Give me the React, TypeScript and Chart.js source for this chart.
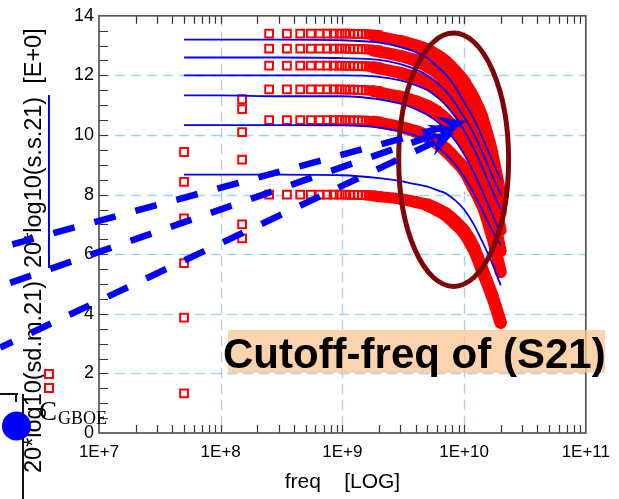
import { useEffect, useRef } from "react";
import { Chart, registerables } from "chart.js";

Chart.register(...registerables);

const FONT = "'Liberation Sans', Arial, Helvetica, sans-serif";
const SERIF = "'Liberation Serif', 'Times New Roman', Times, serif";
const RED = "#ff0000";
const BLUE = "#0000ff";
const GRID = "rgb(158, 212, 242)";
const AXIS = "#555555";

// ---- axes ----
const xTickValues = [1e7, 1e8, 1e9, 1e10, 1e11];
const xTickLabels = ["1E+7", "1E+8", "1E+9", "1E+10", "1E+11"];
const yTickValues = [0, 2, 4, 6, 8, 10, 12, 14];
const yTickLabels = ["0", "2", "4", "6", "8", "10", "12", "14"];

const xAxisTitle = "freq    [LOG]";
const yTitleSim = "20*log10(s.s.21)  [E+0]";
const yTitleMeas = "20*log10(sd.m.21)";
const calloutText = "Cutoff-freq of (S21)";
const capLabelMain = "C";
const capLabelSub = "GBOE";

// ---- measured data (red squares), discrete low-frequency points ----
const measFreq = [5e7, 1.5e8, 2.5e8, 3.5e8, 4.5e8, 5.5e8, 6.5e8, 7.5e8, 8.5e8, 9.5e8, 1.05e9, 1.15e9, 1.25e9, 1.35e9, 1.45e9, 1.55e9, 1.65e9, 1.75e9, 1.85e9, 1.95e9];
const measA = [9.43, 11.2, 13.4, 13.4, 13.4, 13.4, 13.4, 13.4, 13.4, 13.4, 13.4, 13.4, 13.39, 13.39, 13.39, 13.38, 13.38, 13.37, 13.36, 13.35];
const measB = [8.43, 10.87, 12.9, 12.9, 12.9, 12.9, 12.9, 12.9, 12.9, 12.9, 12.9, 12.89, 12.89, 12.88, 12.88, 12.87, 12.87, 12.86, 12.85, 12.84];
const measC = [7.2, 10.1, 12.33, 12.33, 12.33, 12.33, 12.33, 12.33, 12.33, 12.33, 12.32, 12.32, 12.32, 12.31, 12.31, 12.3, 12.3, 12.29, 12.28, 12.27];
const measD = [5.7, 9.17, 11.53, 11.53, 11.53, 11.53, 11.53, 11.53, 11.53, 11.53, 11.52, 11.52, 11.52, 11.51, 11.51, 11.5, 11.5, 11.49, 11.48, 11.47];
const measE = [3.87, 7.0, 10.5, 10.5, 10.5, 10.5, 10.5, 10.5, 10.5, 10.5, 10.5, 10.49, 10.49, 10.49, 10.48, 10.48, 10.47, 10.47, 10.46, 10.45];
const measF = [1.33, 6.53, 8.0, 8.0, 8.0, 8.0, 8.0, 8.0, 8.0, 8.0, 8.0, 7.99, 7.99, 7.99, 7.98, 7.98, 7.97, 7.97, 7.96, 7.95];

// ---- measured data, dense high-frequency band ----
const bandFreq = [1.8e9, 3e9, 4e9, 5e9, 6e9, 7e9, 8.5e9, 1e10, 1.2e10, 1.4e10, 1.7e10, 2e10];
const bandA = [13.33, 13.15, 13.0, 12.85, 12.65, 12.45, 12.1, 11.75, 11.2, 10.6, 9.4, 8.0];
const bandB = [12.83, 12.65, 12.5, 12.32, 12.12, 11.9, 11.55, 11.2, 10.6, 10.0, 8.8, 7.4];
const bandC = [12.27, 12.08, 11.92, 11.75, 11.55, 11.33, 10.97, 10.6, 10.0, 9.4, 8.2, 6.8];
const bandD = [11.47, 11.28, 11.12, 10.95, 10.75, 10.52, 10.15, 9.8, 9.2, 8.6, 7.45, 6.1];
const bandE = [10.45, 10.27, 10.12, 9.95, 9.75, 9.52, 9.17, 8.85, 8.25, 7.7, 6.6, 5.4];
const bandF = [7.95, 7.85, 7.75, 7.65, 7.5, 7.35, 7.05, 6.75, 6.2, 5.5, 4.6, 3.7];

// ---- simulated data (blue lines) ----
const simFreq = [5e7, 1e8, 3e8, 1e9, 2e9, 3e9, 4e9, 5e9, 6e9, 7e9, 8.5e9, 1e10, 1.2e10, 1.4e10, 1.7e10, 2e10];
const sim1 = [13.2, 13.2, 13.2, 13.18, 13.1, 12.95, 12.78, 12.58, 12.3, 12.05, 11.6, 11.1, 10.55, 9.95, 9.15, 8.5];
const sim2 = [12.6, 12.6, 12.6, 12.58, 12.52, 12.38, 12.2, 12.0, 11.75, 11.5, 11.05, 10.6, 10.05, 9.45, 8.65, 8.0];
const sim3 = [12.0, 12.0, 12.0, 12.0, 11.95, 11.83, 11.67, 11.5, 11.27, 11.02, 10.6, 10.15, 9.55, 8.95, 8.15, 7.5];
const sim4 = [11.33, 11.33, 11.3, 11.3, 11.2, 11.05, 10.87, 10.67, 10.45, 10.2, 9.8, 9.35, 8.75, 8.15, 7.35, 6.65];
const sim5 = [10.33, 10.33, 10.33, 10.32, 10.25, 10.12, 9.98, 9.8, 9.6, 9.38, 9.0, 8.6, 8.05, 7.5, 6.8, 6.3];
const sim6 = [8.67, 8.67, 8.67, 8.65, 8.55, 8.45, 8.35, 8.27, 8.15, 8.05, 7.8, 7.5, 7.0, 6.45, 5.7, 4.95];

// ---- annotations (data coordinates) ----
const arrowStartFreq = [1.544e6, 1.544e6, 1.544e6];
const arrowStartVal = [6.22, 4.92, 2.87];
const arrowEndFreq = [1.04e10, 8.76e9, 8.28e9];
const arrowEndVal = [10.47, 10.27, 10.07];
const arrowDashOffset = [30, 32, 8.5];
const ellipseFreq = [2.9e9, 2.32e10];
const ellipseVal = [4.92, 13.42];

const pts = (fs: number[], vs: number[]) => fs.map((f, i) => ({ x: f, y: vs[i] }));

function drawArrow(ctx: CanvasRenderingContext2D, x0: number, y0: number, x1: number, y1: number, offset: number) {
  const L = 28;
  const W = 12;
  const dx = x1 - x0;
  const dy = y1 - y0;
  const len = Math.hypot(dx, dy);
  const ux = dx / len;
  const uy = dy / len;
  const nx = -uy;
  const ny = ux;
  ctx.save();
  ctx.strokeStyle = BLUE;
  ctx.fillStyle = BLUE;
  ctx.lineWidth = 6.5;
  ctx.setLineDash([22, 20.5]);
  ctx.lineDashOffset = offset;
  ctx.beginPath();
  ctx.moveTo(x0, y0);
  ctx.lineTo(x1 - ux * L * 0.6, y1 - uy * L * 0.6);
  ctx.stroke();
  ctx.setLineDash([]);
  ctx.beginPath();
  ctx.moveTo(x1, y1);
  ctx.lineTo(x1 - ux * L + nx * W, y1 - uy * L + ny * W);
  ctx.lineTo(x1 - ux * L * 0.62, y1 - uy * L * 0.62);
  ctx.lineTo(x1 - ux * L - nx * W, y1 - uy * L - ny * W);
  ctx.closePath();
  ctx.fill();
  ctx.restore();
}

const decor = {
  id: "decor",
  beforeDatasetsDraw(chart: any) {
    const { ctx, chartArea: a } = chart;
    const x = chart.scales.x;
    const y = chart.scales.y;
    ctx.save();
    ctx.strokeStyle = GRID;
    ctx.lineWidth = 1.4;
    ctx.setLineDash([10, 6]);
    for (const v of yTickValues.slice(1, -1)) {
      const py = Math.round(y.getPixelForValue(v)) + 0.5;
      ctx.beginPath();
      ctx.moveTo(a.left, py);
      ctx.lineTo(a.right, py);
      ctx.stroke();
    }
    for (const v of xTickValues.slice(1, -1)) {
      const px = Math.round(x.getPixelForValue(v)) + 0.5;
      ctx.beginPath();
      ctx.moveTo(px, a.top);
      ctx.lineTo(px, a.bottom);
      ctx.stroke();
    }
    ctx.restore();
  },
  afterDatasetsDraw(chart: any) {
    const { ctx, chartArea: a } = chart;
    const x = chart.scales.x;
    const y = chart.scales.y;
    ctx.save();
    // ticks
    ctx.strokeStyle = "#333";
    ctx.lineWidth = 1.2;
    ctx.beginPath();
    for (let k = 7; k <= 10; k++) {
      for (let m = 1; m <= 9; m++) {
        if (m === 1 && k === 7) continue;
        const px = Math.round(x.getPixelForValue(m * Math.pow(10, k))) + 0.5;
        ctx.moveTo(px, a.top);
        ctx.lineTo(px, a.top + 8);
        ctx.moveTo(px, a.bottom);
        ctx.lineTo(px, a.bottom - 8);
      }
    }
    for (let v = 0.5; v < 14; v += 0.5) {
      const py = Math.round(y.getPixelForValue(v)) + 0.5;
      ctx.moveTo(a.left, py);
      ctx.lineTo(a.left + 9, py);
    }
    ctx.stroke();
    // frame
    ctx.strokeStyle = AXIS;
    ctx.lineWidth = 1.7;
    ctx.strokeRect(a.left, a.top, a.right - a.left, a.bottom - a.top);
    ctx.restore();
  },
  afterDraw(chart: any) {
    const { ctx } = chart;
    const x = chart.scales.x;
    const y = chart.scales.y;
    ctx.save();

    // ellipse
    const exl = x.getPixelForValue(ellipseFreq[0]);
    const exr = x.getPixelForValue(ellipseFreq[1]);
    const eyb = y.getPixelForValue(ellipseVal[0]);
    const eyt = y.getPixelForValue(ellipseVal[1]);
    ctx.strokeStyle = "#7d0707";
    ctx.lineWidth = 5;
    ctx.beginPath();
    ctx.ellipse((exl + exr) / 2, (eyb + eyt) / 2, (exr - exl) / 2, (eyb - eyt) / 2, 0, 0, Math.PI * 2);
    ctx.stroke();

    // y-axis titles (rotated)
    ctx.fillStyle = "#000";
    ctx.font = `23.5px ${FONT}`;
    ctx.textAlign = "left";
    ctx.textBaseline = "alphabetic";
    ctx.save();
    ctx.translate(41, 268);
    ctx.rotate(-Math.PI / 2);
    ctx.fillText(yTitleSim, 0, 0);
    ctx.restore();
    ctx.save();
    ctx.translate(41, 473);
    ctx.rotate(-Math.PI / 2);
    ctx.fillText(yTitleMeas, 0, 0);
    ctx.restore();

    // legend line for simulated
    ctx.strokeStyle = BLUE;
    ctx.lineWidth = 2;
    ctx.beginPath();
    ctx.moveTo(49, 95);
    ctx.lineTo(49, 268);
    ctx.stroke();

    // legend squares for measured
    ctx.strokeStyle = RED;
    ctx.lineWidth = 2;
    ctx.strokeRect(45, 370, 8, 8);
    ctx.strokeRect(45, 384, 8, 8);

    // black bracket lines
    ctx.strokeStyle = "#111";
    ctx.lineWidth = 2;
    ctx.beginPath();
    ctx.moveTo(0, 394);
    ctx.lineTo(18, 394);
    ctx.moveTo(16, 394);
    ctx.lineTo(16, 402);
    ctx.moveTo(23, 394);
    ctx.lineTo(23, 499);
    ctx.stroke();

    // callout box
    ctx.fillStyle = "rgba(250, 198, 147, 0.75)";
    ctx.fillRect(228, 330, 377, 43);
    ctx.fillStyle = "#000";
    ctx.font = `bold 42px ${FONT}`;
    ctx.fillText(calloutText, 223, 368);

    // dashed arrows
    for (let i = 0; i < arrowStartFreq.length; i++) {
      drawArrow(
        ctx,
        x.getPixelForValue(arrowStartFreq[i]),
        y.getPixelForValue(arrowStartVal[i]),
        x.getPixelForValue(arrowEndFreq[i]),
        y.getPixelForValue(arrowEndVal[i]),
        arrowDashOffset[i]
      );
    }

    // blue dot + C_GBOE
    ctx.fillStyle = BLUE;
    ctx.beginPath();
    ctx.arc(16.5, 426, 14.5, 0, Math.PI * 2);
    ctx.fill();
    ctx.fillStyle = "#000";
    ctx.font = `27px ${SERIF}`;
    ctx.fillText(capLabelMain, 39, 420);
    ctx.font = `18px ${SERIF}`;
    ctx.fillText(capLabelSub, 58, 424);

    // x-axis title
    ctx.font = `21px ${FONT}`;
    ctx.textAlign = "center";
    ctx.fillText(xAxisTitle, (chart.chartArea.left + chart.chartArea.right) / 2, 488);

    ctx.restore();
  },
};

// band thickness follows the footprint of overlapping square markers
const bandWidth = (c: any) => {
  const dx = Math.abs(c.p1.x - c.p0.x);
  const dy = Math.abs(c.p1.y - c.p0.y);
  const l = Math.hypot(dx, dy) || 1;
  return 10 * (dx / l + dy / l);
};

export default function App() {
  const ref = useRef<HTMLCanvasElement>(null);
  useEffect(() => {
    const canvas = ref.current;
    if (!canvas) return;
    Chart.defaults.font.family = FONT;
    const datasets: any[] = [];
    [sim1, sim2, sim3, sim4, sim5, sim6].forEach((vals) =>
      datasets.push({
        data: pts(simFreq, vals),
        borderColor: BLUE,
        borderWidth: 1.8,
        pointRadius: 0,
        cubicInterpolationMode: "monotone",
        fill: false,
      })
    );
    [measA, measB, measC, measD, measE, measF].forEach((vals) =>
      datasets.push({
        data: pts(measFreq, vals),
        showLine: false,
        pointStyle: "rect",
        pointRadius: 5.5,
        pointBorderWidth: 2,
        pointBorderColor: RED,
        pointBackgroundColor: "rgba(0,0,0,0)",
        borderColor: RED,
      })
    );
    [bandA, bandB, bandC, bandD, bandE, bandF].forEach((vals) =>
      datasets.push({
        data: pts(bandFreq, vals),
        borderColor: RED,
        borderWidth: 10,
        borderCapStyle: "round",
        borderJoinStyle: "round",
        segment: { borderWidth: bandWidth },
        pointRadius: 0,
        cubicInterpolationMode: "monotone",
        fill: false,
      })
    );

    const chart = new Chart(canvas, {
      type: "line",
      data: { datasets },
      options: {
        responsive: false,
        animation: false,
        devicePixelRatio: 1,
        events: [],
        layout: { padding: { left: 0, right: 32, top: 13, bottom: 0 } },
        plugins: { legend: { display: false }, tooltip: { enabled: false }, title: { display: false } },
        scales: {
          x: {
            type: "logarithmic",
            min: 1e7,
            max: 1e11,
            grid: { display: false, drawTicks: false },
            border: { display: false },
            afterBuildTicks: (s: any) => {
              s.ticks = xTickValues.map((v) => ({ value: v }));
            },
            afterFit: (s: any) => {
              s.height = 66;
            },
            ticks: {
              autoSkip: false,
              maxRotation: 0,
              minRotation: 0,
              padding: 9,
              color: "#000",
              font: { size: 17, family: FONT },
              callback: (v: any) => {
                const i = xTickValues.indexOf(Number(v));
                return i >= 0 ? xTickLabels[i] : "";
              },
            },
          },
          y: {
            type: "linear",
            min: 0,
            max: 14,
            grid: { display: false, drawTicks: false },
            border: { display: false },
            afterBuildTicks: (s: any) => {
              s.ticks = yTickValues.map((v) => ({ value: v }));
            },
            afterFit: (s: any) => {
              s.width = 99;
            },
            ticks: {
              padding: 5,
              color: "#000",
              font: { size: 18, family: FONT },
              callback: (v: any) => {
                const i = yTickValues.indexOf(Number(v));
                return i >= 0 ? yTickLabels[i] : "";
              },
            },
          },
        },
      } as any,
      plugins: [decor],
    });
    return () => chart.destroy();
  }, []);

  return (
    <canvas
      ref={ref}
      width={619}
      height={499}
      style={{ position: "fixed", left: 0, top: 0, width: 619, height: 499, background: "#fff" }}
    />
  );
}
